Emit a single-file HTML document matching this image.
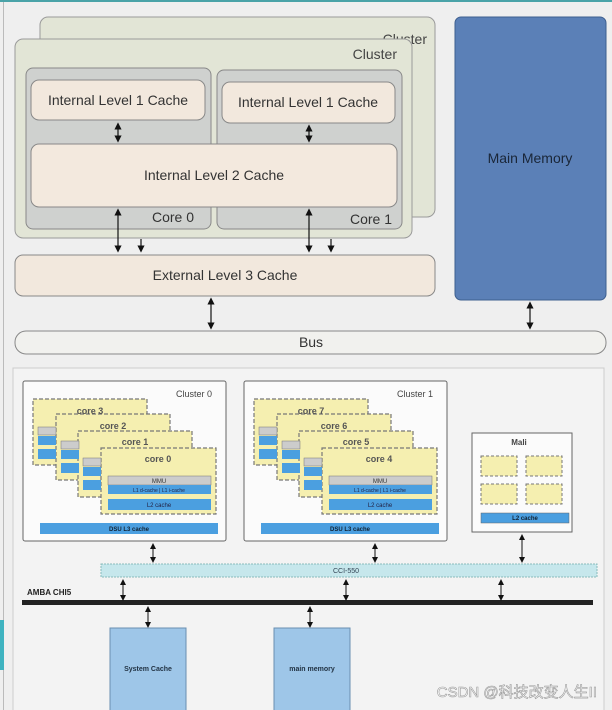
<!DOCTYPE html>
<html><head><meta charset="utf-8"><style>
html,body{margin:0;padding:0;background:#efefef;}
svg{display:block;font-family:"Liberation Sans","Noto Sans CJK SC",sans-serif;}
</style></head><body>
<svg width="612" height="710" viewBox="0 0 612 710" xmlns="http://www.w3.org/2000/svg">
<defs>
<marker id="a" markerWidth="6" markerHeight="6" refX="3" refY="3" orient="auto-start-reverse"><path d="M0,0 L6,3 L0,6 z" fill="#111"/></marker>
</defs>
<rect x="0" y="0" width="612" height="710" fill="#efefef"/>
<rect x="0" y="0" width="612" height="2" fill="#4aa3a8"/>
<rect x="3" y="2" width="1" height="708" fill="#bbb"/>
<!-- top diagram -->
<rect x="40" y="17" width="395" height="200" rx="8" fill="#e2e5d6" stroke="#9a9a9a"/>
<text x="427" y="44" font-size="14" fill="#444" text-anchor="end">Cluster</text>
<rect x="15" y="39" width="397" height="199" rx="8" fill="#e2e5d6" stroke="#9a9a9a"/>
<text x="397" y="59" font-size="14" fill="#444" text-anchor="end">Cluster</text>
<rect x="26" y="68" width="185" height="161" rx="7" fill="#cfd1cf" stroke="#888"/>
<rect x="217" y="70" width="185" height="159" rx="7" fill="#cfd1cf" stroke="#888"/>
<rect x="31" y="80" width="174" height="40" rx="8" fill="#f2e8dd" stroke="#888"/>
<text x="118" y="105" font-size="14" fill="#333" text-anchor="middle">Internal Level 1 Cache</text>
<rect x="222" y="82" width="173" height="41" rx="8" fill="#f2e8dd" stroke="#888"/>
<text x="308" y="107" font-size="14" fill="#333" text-anchor="middle">Internal Level 1 Cache</text>
<rect x="31" y="144" width="366" height="63" rx="8" fill="#f3e9de" stroke="#888"/>
<text x="214" y="180" font-size="14" fill="#333" text-anchor="middle">Internal Level 2 Cache</text>
<text x="194" y="222" font-size="14" fill="#333" text-anchor="end">Core 0</text>
<text x="392" y="224" font-size="14" fill="#333" text-anchor="end">Core 1</text>
<g stroke="#111" stroke-width="1.2">
<line x1="118" y1="126" x2="118" y2="139" marker-start="url(#a)" marker-end="url(#a)"/>
<line x1="309" y1="128" x2="309" y2="139" marker-start="url(#a)" marker-end="url(#a)"/>
<line x1="118" y1="212" x2="118" y2="249" marker-start="url(#a)" marker-end="url(#a)"/>
<line x1="309" y1="212" x2="309" y2="249" marker-start="url(#a)" marker-end="url(#a)"/>
<line x1="141" y1="239" x2="141" y2="249" marker-end="url(#a)"/>
<line x1="331" y1="239" x2="331" y2="249" marker-end="url(#a)"/>
<line x1="211" y1="301" x2="211" y2="326" marker-start="url(#a)" marker-end="url(#a)"/>
<line x1="530" y1="305" x2="530" y2="326" marker-start="url(#a)" marker-end="url(#a)"/>
</g>
<rect x="15" y="255" width="420" height="41" rx="8" fill="#f2e8dd" stroke="#888"/>
<text x="225" y="280" font-size="14" fill="#333" text-anchor="middle">External Level 3 Cache</text>
<rect x="455" y="17" width="151" height="283" rx="6" fill="#5b80b7" stroke="#3e5f8f"/>
<text x="530" y="163" font-size="14" fill="#1a2638" text-anchor="middle">Main Memory</text>
<rect x="15" y="331" width="591" height="23" rx="11" fill="#f1f1ee" stroke="#888"/>
<text x="311" y="347" font-size="14" fill="#333" text-anchor="middle">Bus</text>
<!-- lower panel -->
<rect x="13" y="368" width="591" height="350" fill="#f3f3f3" stroke="#ccc"/>
<g id="cl0">
<rect x="23" y="381" width="203" height="160" rx="2" fill="#fbfbfb" stroke="#666"/>
<text x="212" y="397" font-size="9" fill="#444" text-anchor="end">Cluster 0</text>
<g stroke="#777" stroke-dasharray="4,2" stroke-width="1.2">
<rect x="33" y="399" width="114" height="66" fill="#f5efb0"/>
<rect x="56" y="414" width="114" height="66" fill="#f5efb0"/>
<rect x="78" y="431" width="114" height="66" fill="#f5efb0"/>
<rect x="101" y="448" width="115" height="66" fill="#f5efb0"/>
</g>
<rect x="38" y="427" width="18" height="8" fill="#ccc" stroke="#777" stroke-width=".5"/><rect x="38" y="436" width="18" height="9" fill="#4b9fe0"/><rect x="38" y="449" width="18" height="10" fill="#4b9fe0"/>
<rect x="61" y="441" width="18" height="8" fill="#ccc" stroke="#777" stroke-width=".5"/><rect x="61" y="450" width="18" height="9" fill="#4b9fe0"/><rect x="61" y="463" width="18" height="10" fill="#4b9fe0"/>
<rect x="83" y="458" width="18" height="8" fill="#ccc" stroke="#777" stroke-width=".5"/><rect x="83" y="467" width="18" height="9" fill="#4b9fe0"/><rect x="83" y="480" width="18" height="10" fill="#4b9fe0"/>
<text x="90" y="414" font-size="9" fill="#555" text-anchor="middle" font-weight="bold">core 3</text>
<text x="113" y="429" font-size="9" fill="#555" text-anchor="middle" font-weight="bold">core 2</text>
<text x="135" y="445" font-size="9" fill="#555" text-anchor="middle" font-weight="bold">core 1</text>
<text x="158" y="462" font-size="9" fill="#555" text-anchor="middle" font-weight="bold">core 0</text>
<rect x="108" y="476" width="103" height="9" fill="#ccc" stroke="#777" stroke-width=".5"/>
<text x="159" y="483" font-size="6" fill="#333" text-anchor="middle">MMU</text>
<rect x="108" y="485" width="103" height="9" fill="#4b9fe0"/>
<text x="159" y="492" font-size="5" fill="#224" text-anchor="middle">L1 d-cache | L1 i-cache</text>
<rect x="108" y="499" width="103" height="11" fill="#4b9fe0"/>
<text x="159" y="507" font-size="6" fill="#224" text-anchor="middle">L2 cache</text>
<rect x="40" y="523" width="178" height="11" fill="#4b9fe0"/>
<text x="129" y="531" font-size="6" fill="#123" text-anchor="middle" font-weight="bold">DSU L3 cache</text>
</g>
<g transform="translate(221,0)">
<rect x="23" y="381" width="203" height="160" rx="2" fill="#fbfbfb" stroke="#666"/>
<text x="212" y="397" font-size="9" fill="#444" text-anchor="end">Cluster 1</text>
<g stroke="#777" stroke-dasharray="4,2" stroke-width="1.2">
<rect x="33" y="399" width="114" height="66" fill="#f5efb0"/>
<rect x="56" y="414" width="114" height="66" fill="#f5efb0"/>
<rect x="78" y="431" width="114" height="66" fill="#f5efb0"/>
<rect x="101" y="448" width="115" height="66" fill="#f5efb0"/>
</g>
<rect x="38" y="427" width="18" height="8" fill="#ccc" stroke="#777" stroke-width=".5"/><rect x="38" y="436" width="18" height="9" fill="#4b9fe0"/><rect x="38" y="449" width="18" height="10" fill="#4b9fe0"/>
<rect x="61" y="441" width="18" height="8" fill="#ccc" stroke="#777" stroke-width=".5"/><rect x="61" y="450" width="18" height="9" fill="#4b9fe0"/><rect x="61" y="463" width="18" height="10" fill="#4b9fe0"/>
<rect x="83" y="458" width="18" height="8" fill="#ccc" stroke="#777" stroke-width=".5"/><rect x="83" y="467" width="18" height="9" fill="#4b9fe0"/><rect x="83" y="480" width="18" height="10" fill="#4b9fe0"/>
<text x="90" y="414" font-size="9" fill="#555" text-anchor="middle" font-weight="bold">core 7</text>
<text x="113" y="429" font-size="9" fill="#555" text-anchor="middle" font-weight="bold">core 6</text>
<text x="135" y="445" font-size="9" fill="#555" text-anchor="middle" font-weight="bold">core 5</text>
<text x="158" y="462" font-size="9" fill="#555" text-anchor="middle" font-weight="bold">core 4</text>
<rect x="108" y="476" width="103" height="9" fill="#ccc" stroke="#777" stroke-width=".5"/>
<text x="159" y="483" font-size="6" fill="#333" text-anchor="middle">MMU</text>
<rect x="108" y="485" width="103" height="9" fill="#4b9fe0"/>
<text x="159" y="492" font-size="5" fill="#224" text-anchor="middle">L1 d-cache | L1 i-cache</text>
<rect x="108" y="499" width="103" height="11" fill="#4b9fe0"/>
<text x="159" y="507" font-size="6" fill="#224" text-anchor="middle">L2 cache</text>
<rect x="40" y="523" width="178" height="11" fill="#4b9fe0"/>
<text x="129" y="531" font-size="6" fill="#123" text-anchor="middle" font-weight="bold">DSU L3 cache</text>
</g>
<rect x="472" y="433" width="100" height="99" fill="#fbfbfb" stroke="#666"/>
<text x="519" y="445" font-size="8" fill="#444" text-anchor="middle" font-weight="bold">Mali</text>
<g stroke="#777" stroke-dasharray="3,2" fill="#f5efb0">
<rect x="481" y="456" width="36" height="20"/><rect x="526" y="456" width="36" height="20"/>
<rect x="481" y="484" width="36" height="20"/><rect x="526" y="484" width="36" height="20"/>
</g>
<rect x="481" y="513" width="88" height="10" fill="#4b9fe0" stroke="#666" stroke-width=".5"/>
<text x="525" y="520" font-size="6" fill="#123" text-anchor="middle" font-weight="bold">L2 cache</text>
<rect x="101" y="564" width="496" height="13" fill="#c6e7ec" stroke="#8bb" stroke-dasharray="2,1"/>
<text x="346" y="573" font-size="7" fill="#345" text-anchor="middle">CCI-550</text>
<text x="27" y="595" font-size="8" fill="#222" font-weight="bold">AMBA CHI5</text>
<rect x="22" y="600" width="571" height="5" fill="#222"/>
<g stroke="#111" stroke-width="1">
<line x1="153" y1="546" x2="153" y2="560" marker-start="url(#a)" marker-end="url(#a)"/>
<line x1="375" y1="546" x2="375" y2="560" marker-start="url(#a)" marker-end="url(#a)"/>
<line x1="522" y1="537" x2="522" y2="560" marker-start="url(#a)" marker-end="url(#a)"/>
<line x1="123" y1="582" x2="123" y2="598" marker-start="url(#a)" marker-end="url(#a)"/>
<line x1="346" y1="582" x2="346" y2="598" marker-start="url(#a)" marker-end="url(#a)"/>
<line x1="501" y1="582" x2="501" y2="598" marker-start="url(#a)" marker-end="url(#a)"/>
<line x1="148" y1="609" x2="148" y2="625" marker-start="url(#a)" marker-end="url(#a)"/>
<line x1="310" y1="609" x2="310" y2="625" marker-start="url(#a)" marker-end="url(#a)"/>
</g>
<rect x="110" y="628" width="76" height="85" fill="#9ec6e8" stroke="#6a8fb0"/>
<text x="148" y="671" font-size="7" fill="#234" text-anchor="middle" font-weight="bold">System Cache</text>
<rect x="274" y="628" width="76" height="85" fill="#9ec6e8" stroke="#6a8fb0"/>
<text x="312" y="671" font-size="7" fill="#234" text-anchor="middle" font-weight="bold">main memory</text>
<rect x="0" y="620" width="4" height="50" fill="#3fb3c0"/>
<text x="597" y="697" font-size="15" fill="#fff" stroke="#999" stroke-width=".6" text-anchor="end">CSDN @科技改变人生II</text>
</svg>
</body></html>
